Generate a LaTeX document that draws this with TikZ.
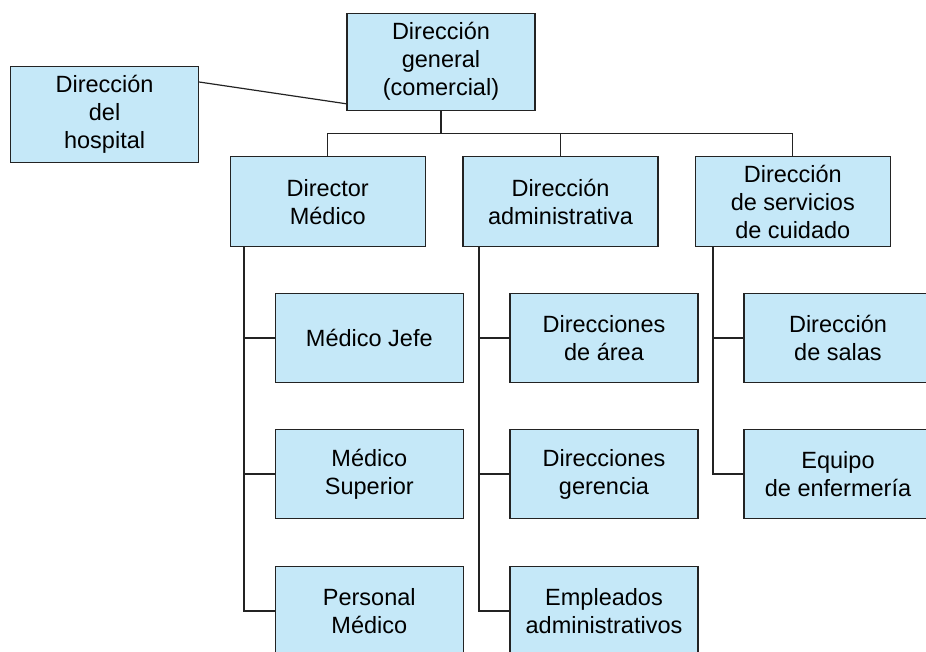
\documentclass[tikz,border=0pt]{standalone}
\usepackage{fontspec}
\setmainfont{Liberation Sans}
\usetikzlibrary{calc}
\definecolor{boxfill}{RGB}{197,232,248}
\definecolor{edge}{RGB}{35,35,35}
\begin{document}
\begin{tikzpicture}[x=1pt,y=-1pt,
  orgbox/.style={draw=edge,fill=boxfill,line width=1.2pt,rectangle,inner sep=0pt,
    align=center,font=\fontsize{23.5}{28}\selectfont},
  lvlone/.style={orgbox,minimum width=195pt,minimum height=90pt},
  lvltwo/.style={orgbox,minimum width=188pt,minimum height=89.5pt},
  conn/.style={draw=edge,line width=1.2pt}]
\useasboundingbox (0,0) rectangle (926,651);
\clip (0,0) rectangle (926,651);
\node[orgbox,minimum width=188pt,minimum height=97pt] (gen) at (441,61.7) {Dirección\\general\\(comercial)};
\node[orgbox,minimum width=188pt,minimum height=96pt] (hosp) at (104.6,114.6) {Dirección\\del\\hospital};
\node[lvlone] (dm) at (327.7,201.7) {Director\\Médico};
\node[lvlone] (da) at (560.5,201.7) {Dirección\\administrativa};
\node[lvlone] (ds) at (792.8,201.7) {Dirección\\de servicios\\de cuidado};
\node[lvltwo] (c11) at (369.3,338) {Médico Jefe};
\node[lvltwo] (c12) at (369.3,474) {Médico\\Superior};
\node[lvltwo] (c13) at (369.3,611) {Personal\\Médico};
\node[lvltwo] (c21) at (604,338) {Direcciones\\de área};
\node[lvltwo] (c22) at (604,474) {Direcciones\\gerencia};
\node[lvltwo] (c23) at (604,611) {Empleados\\administrativos};
\node[lvltwo] (c31) at (838,338) {Dirección\\de salas};
\node[lvltwo] (c32) at (838,474) {Equipo\\de enfermería};
% hospital link
\draw[conn] ($(hosp.north east)+(0,16)$) -- ($(gen.south west)+(0,-7)$);
% bus
\coordinate (bus) at (441,133.3);
\draw[conn] (gen.south) -- (bus);
\draw[conn] (dm.north) |- (bus);
\draw[conn] (ds.north) |- (bus);
\draw[conn] (da.north) -- (da.north |- bus);
% column 1
\draw[conn] ($(dm.south west)+(14.3,0)$) |- (c11.west);
\draw[conn] ($(dm.south west)+(14.3,0)$) |- (c12.west);
\draw[conn] ($(dm.south west)+(14.3,0)$) |- (c13.west);
% column 2
\draw[conn] ($(da.south west)+(16.6,0)$) |- (c21.west);
\draw[conn] ($(da.south west)+(16.6,0)$) |- (c22.west);
\draw[conn] ($(da.south west)+(16.6,0)$) |- (c23.west);
% column 3
\draw[conn] ($(ds.south west)+(18.3,0)$) |- (c31.west);
\draw[conn] ($(ds.south west)+(18.3,0)$) |- (c32.west);
\end{tikzpicture}
\end{document}
